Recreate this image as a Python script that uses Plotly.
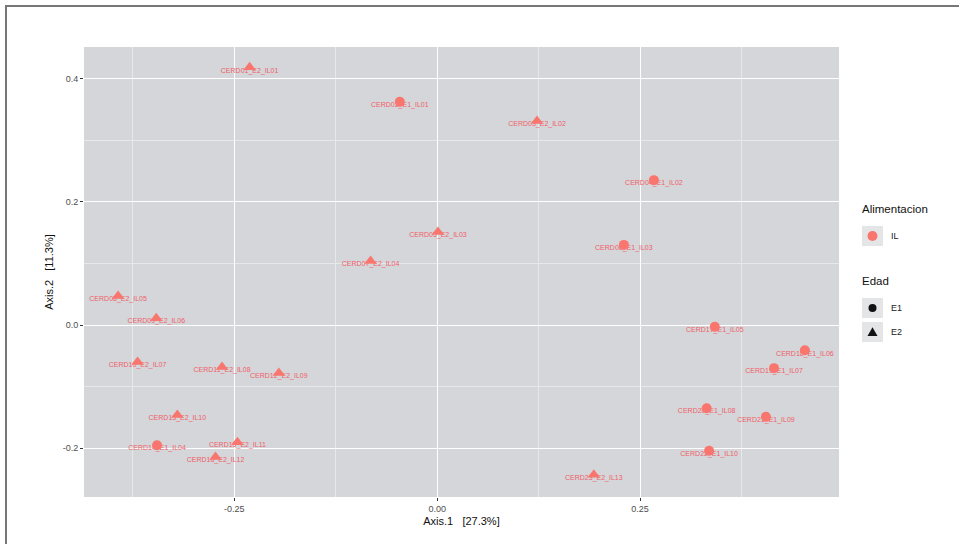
import plotly.graph_objects as go

# E1 samples (circles)
e1_names = ["CERD02_E1_IL01", "CERD04_E1_IL02", "CERD06_E1_IL03", "CERD14_E1_IL04",
            "CERD17_E1_IL05", "CERD18_E1_IL06", "CERD19_E1_IL07", "CERD20_E1_IL08",
            "CERD21_E1_IL09", "CERD22_E1_IL10"]
e1_x = [-0.046, 0.267, 0.230, -0.345, 0.342, 0.453, 0.415, 0.332, 0.405, 0.335]
e1_y = [0.362, 0.235, 0.130, -0.195, -0.003, -0.041, -0.070, -0.135, -0.149, -0.204]

# E2 samples (triangles)
e2_names = ["CERD01_E2_IL01", "CERD03_E2_IL02", "CERD05_E2_IL03", "CERD07_E2_IL04",
            "CERD08_E2_IL05", "CERD09_E2_IL06", "CERD10_E2_IL07", "CERD11_E2_IL08",
            "CERD12_E2_IL09", "CERD13_E2_IL10", "CERD15_E2_IL11", "CERD16_E2_IL12",
            "CERD23_E2_IL13"]
e2_x = [-0.231, 0.123, 0.001, -0.082, -0.393, -0.346, -0.369, -0.265, -0.195,
        -0.320, -0.246, -0.273, 0.193]
e2_y = [0.418, 0.331, 0.151, 0.104, 0.047, 0.011, -0.060, -0.068, -0.078,
        -0.146, -0.190, -0.214, -0.243]

x_ticks = [-0.25, 0.0, 0.25]
x_tick_labels = ["-0.25", "0.00", "0.25"]
y_ticks = [-0.2, 0.0, 0.2, 0.4]
y_tick_labels = ["-0.2", "0.0", "0.2", "0.4"]

legend_alim_title = "Alimentacion"
legend_alim_items = ["IL"]
legend_edad_title = "Edad"
legend_edad_items = ["E1", "E2"]

RED = "#F8766D"
LABEL_RED = "#F0606A"
W, H = 959, 544
L, R, T, B = 84, 120, 47, 47


def px_x(p):
    return (p - L) / (W - L - R)


def px_y(p):
    return (H - B - p) / (H - T - B)


fig = go.Figure()

# labels (drawn below the markers)
for names, xs, ys in [(e1_names, e1_x, e1_y), (e2_names, e2_x, e2_y)]:
    fig.add_trace(go.Scatter(
        x=xs, y=ys, mode="text", text=names, textposition="bottom center",
        textfont=dict(size=7, color=LABEL_RED, family="Liberation Sans"),
        showlegend=False, hoverinfo="skip", cliponaxis=False))

fig.add_trace(go.Scatter(
    x=e1_x, y=e1_y, mode="markers", name="E1",
    marker=dict(symbol="circle", size=10, color=RED),
    showlegend=False, hoverinfo="skip"))
fig.add_trace(go.Scatter(
    x=e2_x, y=e2_y, mode="markers", name="E2",
    marker=dict(symbol="triangle-up", size=11, color=RED),
    showlegend=False, hoverinfo="skip"))

# manual ggplot-style legend
shapes = [dict(type="rect", xref="paper", yref="paper",
               x0=px_x(6), x1=px_x(975), y0=px_y(560), y1=px_y(6),
               line=dict(color="#777777", width=2), fillcolor="rgba(0,0,0,0)", layer="below")]
annotations = []
KEY_GREY = "#E4E5E7"
KEY_CX = 872.5


def add_title(text, ypix):
    annotations.append(dict(xref="paper", yref="paper", x=px_x(860), y=px_y(ypix),
                            text=text, showarrow=False, xanchor="left", yanchor="middle",
                            font=dict(size=11.5, color="#111")))


def add_item(label, ypix, kind, color, r):
    shapes.append(dict(type="rect", xref="paper", yref="paper",
                       x0=px_x(862), x1=px_x(883), y0=px_y(ypix + 10), y1=px_y(ypix - 10),
                       line=dict(width=0), fillcolor=KEY_GREY, layer="above"))
    if kind == "circle":
        shapes.append(dict(type="circle", xref="paper", yref="paper",
                           xsizemode="pixel", ysizemode="pixel",
                           xanchor=px_x(KEY_CX), yanchor=px_y(ypix),
                           x0=-r, x1=r, y0=-r, y1=r,
                           line=dict(width=0), fillcolor=color, layer="above"))
    else:
        shapes.append(dict(type="path", xref="paper", yref="paper",
                           xsizemode="pixel", ysizemode="pixel",
                           xanchor=px_x(KEY_CX), yanchor=px_y(ypix),
                           path=f"M {-r} {-r*0.8} L {r} {-r*0.8} L 0 {r*0.95} Z",
                           line=dict(width=0), fillcolor=color, layer="above"))
    annotations.append(dict(xref="paper", yref="paper", x=px_x(889), y=px_y(ypix),
                            text=label, showarrow=False, xanchor="left", yanchor="middle",
                            font=dict(size=9, color="#222")))


add_title(legend_alim_title, 209)
add_item(legend_alim_items[0], 236, "circle", RED, 5)
add_title(legend_edad_title, 281)
add_item(legend_edad_items[0], 308, "circle", "#111", 4)
add_item(legend_edad_items[1], 332, "triangle", "#111", 5)

fig.update_layout(
    width=W, height=H,
    margin=dict(l=L, r=R, t=T, b=B),
    paper_bgcolor="white",
    plot_bgcolor="#D4D6D9",
    font=dict(family="Liberation Sans", color="#222"),
    showlegend=False,
    xaxis=dict(range=[-0.435, 0.495], tickvals=x_ticks, ticktext=x_tick_labels,
               showgrid=True, gridcolor="white", gridwidth=1.3,
               minor=dict(showgrid=True, gridcolor="#E6E8EA", gridwidth=0.6, dtick=0.125, tick0=0.125),
               zeroline=False, ticks="outside", ticklen=3, tickcolor="#333",
               tickfont=dict(size=9, color="#4D4D4D"),
               title=dict(text="Axis.1   [27.3%]", font=dict(size=11, color="#111"), standoff=4)),
    yaxis=dict(range=[-0.279, 0.451], tickvals=y_ticks, ticktext=y_tick_labels,
               showgrid=True, gridcolor="white", gridwidth=1.3,
               minor=dict(showgrid=True, gridcolor="#E6E8EA", gridwidth=0.6, dtick=0.1, tick0=0.1),
               zeroline=False, ticks="outside", ticklen=3, tickcolor="#333",
               tickfont=dict(size=9, color="#4D4D4D"),
               title=dict(text="Axis.2   [11.3%]", font=dict(size=11, color="#111"), standoff=6)),
    shapes=shapes,
    annotations=annotations,
    hovermode=False,
)

fig.write_html("out.html", config={"displayModeBar": False},
               post_script="document.body.style.margin='0px';")
